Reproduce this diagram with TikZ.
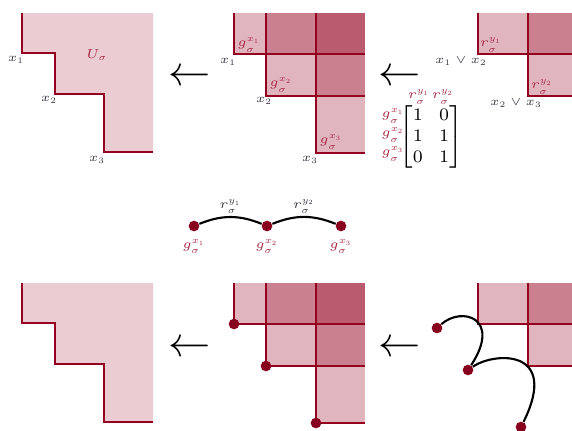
\RequirePackage{fix-cm}
\documentclass[tikz,border=0pt]{standalone}
\usepackage{amsmath}
\usetikzlibrary{arrows.meta, positioning}
\definecolor{crim}{RGB}{150,0,32}
\definecolor{lbl}{RGB}{55,55,70}

\begin{document}
\begin{tikzpicture}[
    x=0.015cm, y=-0.015cm,
    stair/.style={
        draw=crim,
        line width=0.9pt
    },
    cellline/.style={
        draw=crim,
        line width=0.55pt
    },
    cell/.style={fill=crim, fill opacity=0.29},
    region/.style={fill=crim, fill opacity=0.2},
    lab/.style={
        text=lbl,
        inner sep=1pt,
        font=\fontsize{5.5}{6.5}\selectfont
    },
    xlab/.style={
        lab,
        font=\fontsize{5.1}{6}\selectfont
    },
    glab/.style={
        text=crim!85,
        inner sep=1pt,
        font=\fontsize{5.5}{6.5}\selectfont
    },
    gdot/.style={
        circle,
        fill=crim!90!black,
        inner sep=0pt,
        minimum size=1.6mm
    },
    curve/.style={line width=0.9pt},
    revarrow/.style={font=\fontsize{18}{21}\selectfont, inner sep=0pt}
]
\clip (0,0) rectangle (572,430);

% Haut : region U
\fill[region] (22,13) -- (22,53) -- (55,53) -- (55,94) -- (104,94) -- (104,152) -- (153,152) -- (153,13) -- cycle;
\draw[stair] (22,13) -- (22,53) -- (55,53) -- (55,94) -- (104,94) -- (104,152) -- (153,152);
\node[glab] (U) at (97,55) {$U_\sigma$};
\node[xlab] (x1) at (16,60) {$x_1$};
\node[xlab] (x2) at (49,100) {$x_2$};
\node[xlab] (x3) at (97,160) {$x_3$};

\node[revarrow] (arrA) at (190,78) {$\leftarrow$};

% Haut : generateurs g
\fill[cell] (234,13) rectangle (365,54);
\fill[cell] (266,13) rectangle (365,96);
\fill[cell] (316,13) rectangle (365,153);
\draw[cellline] (234,13) -- (234,54) -- (365,54);
\draw[cellline] (266,13) -- (266,96) -- (365,96);
\draw[cellline] (316,13) -- (316,153) -- (365,153);
\node[glab] (gA) at (249,45) {$g_\sigma^{x_1}$};
\node[glab] (gB) at (281,85) {$g_\sigma^{x_2}$};
\node[glab] (gC) at (331,142) {$g_\sigma^{x_3}$};
\node[xlab] (xA) at (228,62) {$x_1$};
\node[xlab] (xB) at (264,101) {$x_2$};
\node[xlab] (xC) at (310,160) {$x_3$};

\node[revarrow] (arrB) at (400,78) {$\leftarrow$};

% Haut : relations r
\fill[cell] (478,13) rectangle (600,54);
\fill[cell] (528,13) rectangle (600,96);
\draw[cellline] (478,13) -- (478,54) -- (600,54);
\draw[cellline] (528,13) -- (528,96) -- (600,96);
\node[glab] (rA) at (491,45) {$r_\sigma^{y_1}$};
\node[glab] (rB) at (542,87) {$r_\sigma^{y_2}$};
\node[xlab] (xAB) at (461,61) {$x_1 \vee x_2$};
\node[xlab] (xBC) at (516,103) {$x_2 \vee x_3$};

% Matrice
\node[inner sep=0pt, font=\fontsize{7.5}{9}\selectfont] (mat) at (431,137)
    {$\setlength{\arraycolsep}{3.5pt}\begin{bmatrix}1 & 0\\ 1 & 1\\ 0 & 1\end{bmatrix}$};
\node[glab] (mrA) at (419,97) {$r_\sigma^{y_1}$};
\node[glab] (mrB) at (443,97) {$r_\sigma^{y_2}$};
\node[glab] (mgA) at (393,116) {$g_\sigma^{x_1}$};
\node[glab] (mgB) at (393,135) {$g_\sigma^{x_2}$};
\node[glab] (mgC) at (393,154) {$g_\sigma^{x_3}$};

% Milieu : graphe
\node[gdot] (g1) at (194,226) {};
\node[gdot] (g2) at (267,226) {};
\node[gdot] (g3) at (341,226) {};
\node[glab, below=2pt of g1] (lg1) {$g_\sigma^{x_1}$};
\node[glab, below=2pt of g2] (lg2) {$g_\sigma^{x_2}$};
\node[glab, below=2pt of g3] (lg3) {$g_\sigma^{x_3}$};
\draw[curve] (g1) to[bend left=22] node[lab, above] (ly1) {$r_\sigma^{y_1}$} (g2);
\draw[curve] (g2) to[bend left=22] node[lab, above] (ly2) {$r_\sigma^{y_2}$} (g3);

% Bas
\begin{scope}[shift={(0,270)}]
\fill[region] (22,13) -- (22,53) -- (55,53) -- (55,94) -- (104,94) -- (104,152) -- (153,152) -- (153,13) -- cycle;
\draw[stair] (22,13) -- (22,53) -- (55,53) -- (55,94) -- (104,94) -- (104,152) -- (153,152);

\node[revarrow] (arrC) at (190,79) {$\leftarrow$};

\fill[cell] (234,13) rectangle (365,54);
\fill[cell] (266,13) rectangle (365,96);
\fill[cell] (316,13) rectangle (365,153);
\draw[cellline] (234,13) -- (234,54) -- (365,54);
\draw[cellline] (266,13) -- (266,96) -- (365,96);
\draw[cellline] (316,13) -- (316,153) -- (365,153);
\node[gdot] (p1) at (234,54) {};
\node[gdot] (p2) at (266,96) {};
\node[gdot] (p3) at (316,153) {};

\node[revarrow] (arrD) at (400,79) {$\leftarrow$};

\fill[cell] (478,13) rectangle (600,54);
\fill[cell] (528,13) rectangle (600,96);
\draw[cellline] (478,13) -- (478,54) -- (600,54);
\draw[cellline] (528,13) -- (528,96) -- (600,96);
\node[gdot] (c1) at (437,58) {};
\node[gdot] (c2) at (468,100) {};
\node[gdot] (c3) at (521,157) {};
\draw[curve] (c1) .. controls (462,36) and (502,48) .. (c2);
\draw[curve] (c2) .. controls (494,82) and (560,78) .. (c3);
\end{scope}

\end{tikzpicture}
\end{document}
